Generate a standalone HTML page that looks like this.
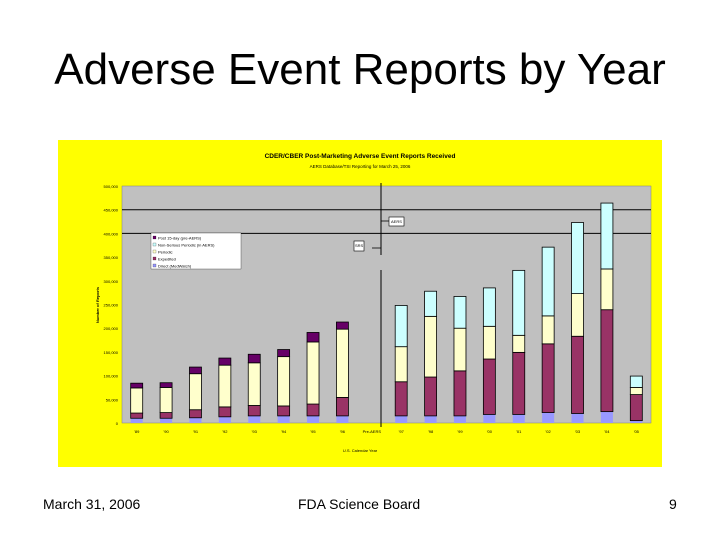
<!DOCTYPE html>
<html><head><meta charset="utf-8"><style>
body{margin:0;width:720px;height:540px;background:#fff;font-family:"Liberation Sans",sans-serif;overflow:hidden;position:relative}
#title{position:absolute;left:0;top:45px;width:720px;text-align:center;font-size:44px;color:#000}
.foot{position:absolute;top:496px;font-size:14px}
</style></head><body>
<div id="title">Adverse Event Reports by Year</div>
<svg id="chart" style="position:absolute;left:0;top:0" width="720" height="540"></svg>
<div class="foot" style="left:43px">March 31, 2006</div>
<div class="foot" style="left:298px">FDA Science Board</div>
<div class="foot" style="left:669px">9</div>
<script>
const categories=["'89","'90","'91","'92","'93","'94","'95","'96","Pre-AERS","'97","'98","'99","'00","'01","'02","'03","'04","'05"];
const direct=[10,10,11,13,15,15,15,15,0,15,15,15,18,18,22,20,24,5];
const expedited=[11,12,17,21,22,21,25,39,0,72,82,95,117,131,145,163,215,55];
const periodic=[53,53,76,88,90,104,131,144,0,74,128,90,69,36,59,90,86,15];
const nonSerious=[0,0,0,0,0,0,0,0,0,87,53,67,81,137,145,150,139,24];
const other=[10,10,14,15,18,15,20,15,0,0,0,0,0,0,0,0,0,0];
const yTicks=[0,50,100,150,200,250,300,350,400,450,500];
const seriesNames=["Direct (MedWatch)","Expedited","Periodic","Non-Serious Periodic (in AERS)","Post 15-day (pre-AERS)"];
const colors=["#9999ff","#993366","#ffffcc","#ccffff","#660066"];
const NS="http://www.w3.org/2000/svg";
const svg=document.getElementById('chart');
function mk(t,a,p){const e=document.createElementNS(NS,t);for(const k in a)e.setAttribute(k,a[k]);(p||svg).appendChild(e);return e;}
const X0=122,X1=651,Y0=423,Y1=186;
const bg=mk('rect',{x:58,y:140,width:604,height:327,fill:'#ffff00'});

const pa=mk('rect',{x:X0,y:Y1,width:X1-X0,height:Y0-Y1,fill:'#c0c0c0',stroke:'#808080','stroke-width':0.5});

const y=v=>Y0-(v/500)*(Y0-Y1);
const slot=(X1-X0)/categories.length;
const xc=i=>X0+slot*(i+0.5);
yTicks.forEach(t=>{
 const l=mk('text',{x:X0-4,y:y(t)+2,'font-size':4,'text-anchor':'end',fill:'#000'});l.textContent=t===0?'0':t+',000';
 
});
[400,450].forEach(t=>{const g=mk('line',{x1:X0,x2:X1,y1:y(t),y2:y(t),stroke:'#000','stroke-width':1});
 });
const series=[direct,expedited,periodic,nonSerious,other];
categories.forEach((c,i)=>{
 let acc=0;
 series.forEach((s,k)=>{
  if(s[i]<=0)return;
  const r=mk('rect',{x:xc(i)-6,y:y(acc+s[i]),width:12,height:y(acc)-y(acc+s[i]),fill:colors[k],stroke:k==0?'none':'#000','stroke-width':0.8});
  
  acc+=s[i];
 });
 const l=mk('text',{x:xc(i),y:Y0+10,'font-size':4,'text-anchor':'middle'});l.textContent=c;
 
});
const vl=mk('path',{d:`M381 183V255M381 270V427`,stroke:'#000','stroke-width':1});

const t1=mk('text',{x:360,y:158,'font-size':6.5,'font-weight':'bold','text-anchor':'middle'});t1.textContent='CDER/CBER Post-Marketing Adverse Event Reports Received';

const t2=mk('text',{x:360,y:168,'font-size':4.5,'text-anchor':'middle'});t2.textContent='AERS Database/TSI Reporting for March 25, 2006';

const yt=mk('text',{x:99,y:305,'font-size':4,'font-weight':'bold','text-anchor':'middle',transform:'rotate(-90 99 305)'});yt.textContent='Number of Reports';

const xt=mk('text',{x:360,y:452,'font-size':4,'text-anchor':'middle'});xt.textContent='U.S. Calendar Year';

const lg=mk('rect',{x:151,y:233,width:90,height:36,fill:'#fff',stroke:'#000','stroke-width':0.3});

seriesNames.slice().reverse().forEach((n,j)=>{
 const k=4-j;
 const sw=mk('rect',{x:153,y:236+j*7,width:3,height:3,fill:colors[k],stroke:'#000','stroke-width':0.2});
 
 const tx=mk('text',{x:158,y:239.5+j*7,'font-size':4});tx.textContent=n;
 
});
const b1=mk('rect',{x:389,y:217,width:15,height:9,fill:'#fff',stroke:'#000','stroke-width':0.6});

const b1t=mk('text',{x:391,y:223,'font-size':4});b1t.textContent='AERS';
const a1=mk('path',{d:'M381 221H389',stroke:'#000','stroke-width':0.8});
const b2=mk('rect',{x:354,y:241,width:10,height:10,fill:'#fff',stroke:'#000','stroke-width':0.6});

const b2t=mk('text',{x:355,y:247,'font-size':4});b2t.textContent='SRS';
const a2=mk('path',{d:'M372 248H381',stroke:'#000','stroke-width':0.8});
</script>
</body></html>
